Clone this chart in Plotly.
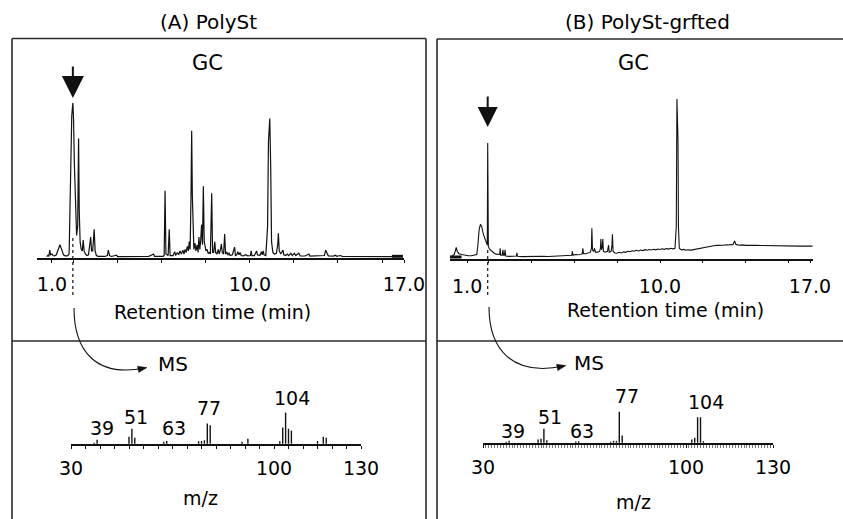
import plotly.graph_objects as go

W, H = 843, 519


def px(x):
    return x / W


def py(y):
    return 1 - y / H


# ---------------- data ----------------
# GC chromatogram (A) PolySt: retention time (min) / detector signal (rel.)
gc_a_time = [0.76, 0.82, 0.86, 0.90, 0.94, 1.00, 1.05, 1.12, 1.20, 1.28, 1.36, 1.44, 1.52, 1.60, 1.70,
             1.78, 1.84, 1.90, 1.95, 1.98, 2.02, 2.07, 2.12, 2.17, 2.21, 2.24, 2.28, 2.33, 2.38, 2.42,
             2.46, 2.52, 2.58, 2.66, 2.72, 2.76, 2.80, 2.85, 2.92, 2.96, 3.02, 3.10, 3.40, 3.52, 3.56,
             3.62, 3.70, 3.94, 3.98, 4.50, 4.90, 5.40, 5.62, 5.66, 6.05, 6.10, 6.14, 6.18, 6.28, 6.33,
             6.37, 6.50, 6.58, 6.62, 6.70, 6.76, 6.82, 6.88, 6.95, 7.00, 7.05, 7.10, 7.15, 7.20, 7.24,
             7.28, 7.32, 7.35, 7.38, 7.41, 7.45, 7.50, 7.54, 7.60, 7.64, 7.68, 7.72, 7.76, 7.80, 7.84,
             7.88, 7.92, 7.96, 8.00, 8.05, 8.10, 8.15, 8.20, 8.26, 8.30, 8.35, 8.40, 8.44, 8.50, 8.56,
             8.60, 8.66, 8.70, 8.74, 8.80, 8.85, 8.89, 8.95, 9.00, 9.05, 9.10, 9.20, 9.30, 9.34, 9.40,
             9.45, 9.50, 9.55, 9.60, 9.70, 9.80, 9.90, 10.02, 10.05, 10.09, 10.20, 10.30, 10.34, 10.45,
             10.52, 10.56, 10.60, 10.64, 10.72, 10.80, 10.84, 10.90, 10.94, 10.98, 11.04, 11.10, 11.20,
             11.26, 11.29, 11.33, 11.40, 11.50, 11.54, 11.62, 11.70, 11.76, 11.86, 11.92, 12.02, 12.08,
             12.22, 12.28, 12.50, 12.68, 12.72, 13.00, 13.38, 13.44, 13.50, 13.56, 13.80, 13.88, 13.95,
             14.10, 14.20, 14.60, 15.20, 16.00, 16.45]
gc_a_signal = [0.3, 1.2, 0.5, 4.5, 1.5, 2.0, 1.0, 0.8, 1.5, 5.0, 8.0, 5.0, 1.5, 0.8, 0.8,
               2.0, 40.0, 92.0, 100.0, 90.0, 60.0, 30.0, 14.0, 20.0, 77.0, 30.0, 10.0, 5.0, 4.0, 11.0,
               4.0, 2.0, 1.0, 1.5, 8.0, 13.0, 4.0, 4.0, 18.0, 4.0, 1.0, 0.5, 0.4, 1.0, 4.5,
               1.0, 0.4, 1.2, 0.3, 0.5, 0.4, 0.5, 2.0, 0.4, 0.5, 1.0, 43.0, 2.0, 1.0, 18.0,
               1.0, 1.0, 3.5, 1.0, 3.0, 1.5, 4.0, 2.0, 4.5, 2.0, 5.0, 3.0, 7.0, 4.0, 10.0,
               5.0, 40.0, 82.0, 40.0, 12.0, 5.0, 9.0, 4.0, 8.0, 3.0, 13.0, 5.0, 11.0, 21.0, 8.0,
               46.0, 10.0, 6.0, 4.0, 5.0, 2.5, 3.0, 2.0, 41.5, 3.0, 3.0, 10.0, 3.0, 2.0, 5.0,
               2.0, 5.0, 8.5, 3.0, 2.0, 15.0, 2.0, 3.0, 1.5, 2.5, 1.0, 1.5, 6.5, 1.0, 1.5,
               3.5, 1.5, 3.0, 1.0, 0.8, 1.5, 0.8, 1.0, 4.0, 1.0, 1.0, 4.0, 1.5, 1.0,
               3.5, 1.5, 4.0, 1.5, 1.0, 20.0, 75.0, 90.0, 60.0, 10.0, 3.0, 2.0, 2.5,
               8.0, 15.5, 4.0, 2.0, 4.5, 1.5, 1.0, 2.0, 1.0, 2.5, 1.0, 2.5, 1.0,
               2.5, 0.7, 0.7, 2.0, 0.6, 0.6, 1.0, 4.5, 2.0, 0.8, 0.6, 1.2, 0.5,
               1.0, 0.5, 0.4, 0.4, 0.3, 0.3]
gc_a_end_time = [16.45, 16.95]
gc_a_end_signal = [0.5, 0.5]

# GC chromatogram (B) PolySt-grfted
gc_b_time = [0.29, 0.40, 0.46, 0.49, 0.54, 0.62, 0.75, 0.90, 1.05, 1.20, 1.35, 1.45, 1.50, 1.56, 1.62,
             1.68, 1.76, 1.84, 1.90, 1.94, 1.96, 1.99, 2.05, 2.15, 2.25, 2.35, 2.45, 2.52, 2.54, 2.57,
             2.64, 2.67, 2.70, 2.74, 2.77, 2.80, 2.95, 3.10, 3.30, 3.32, 3.35, 3.60, 3.90, 4.20, 4.50,
             4.80, 5.10, 5.40, 5.60, 5.80, 5.88, 5.91, 5.94, 6.05, 6.15, 6.30, 6.37, 6.40, 6.43, 6.55,
             6.65, 6.75, 6.80, 6.82, 6.85, 6.90, 6.95, 6.98, 7.10, 7.18, 7.22, 7.24, 7.27, 7.31, 7.33,
             7.36, 7.45, 7.55, 7.60, 7.63, 7.72, 7.76, 7.78, 7.81, 7.90, 7.98, 8.10, 8.20, 8.30, 8.40,
             8.50, 8.60, 8.70, 8.80, 8.90, 9.00, 9.10, 9.20, 9.30, 9.40, 9.50, 9.60, 9.70, 9.80, 9.90,
             10.00, 10.10, 10.20, 10.30, 10.40, 10.50, 10.60, 10.70, 10.76, 10.79, 10.82, 10.84,
             10.86, 10.90, 11.00, 11.10, 11.20, 11.30, 11.45, 11.56, 11.70, 11.80, 11.90, 12.02, 12.15,
             12.25, 12.40, 12.50, 12.65, 12.75, 12.85, 12.96, 13.10, 13.20, 13.30, 13.40, 13.48, 13.54,
             13.70, 13.85, 14.00, 14.20, 14.35, 14.55, 14.70, 14.90, 15.13, 15.30, 15.50, 15.70, 15.90,
             16.20, 16.50, 16.80, 17.12]
gc_b_signal = [1.0, 2.0, 5.0, 6.5, 4.0, 2.5, 2.0, 1.5, 1.2, 1.2, 1.5, 2.0, 8.0, 18.0, 21.5,
               20.0, 15.0, 12.0, 9.0, 8.0, 74.0, 7.0, 5.5, 4.0, 3.0, 2.2, 1.8, 2.0, 6.0, 1.5,
               1.5, 5.0, 1.5, 1.5, 5.0, 1.0, 0.8, 0.8, 1.0, 3.0, 0.8, 0.6, 0.8, 0.6, 0.9,
               0.7, 1.0, 1.0, 1.2, 1.5, 1.5, 4.0, 1.5, 2.0, 1.8, 2.0, 2.5, 6.0, 2.5, 2.5,
               3.0, 3.5, 6.0, 19.0, 5.0, 4.0, 6.0, 3.5, 3.5, 4.0, 6.0, 12.0, 5.0, 7.0, 12.0,
               4.0, 3.5, 4.0, 8.0, 3.5, 4.0, 8.0, 15.0, 4.0, 3.0, 2.8, 3.4, 3.0, 3.7, 3.4,
               4.1, 3.8, 4.4, 4.1, 4.7, 4.3, 4.9, 4.5, 5.1, 4.7, 5.2, 4.9, 5.4, 5.0, 5.5,
               5.2, 5.7, 5.3, 5.8, 5.5, 6.0, 5.6, 6.0, 20.0, 102.5, 90.0, 76.0,
               20.0, 6.0, 5.0, 5.3, 4.7, 5.0, 4.8, 5.1, 5.6, 5.9, 6.4, 6.5, 7.0,
               7.2, 7.5, 7.6, 7.9, 7.8, 8.1, 8.0, 8.3, 8.1, 8.4, 8.3, 10.8, 8.5,
               8.0, 8.2, 7.9, 8.1, 7.8, 8.0, 7.8, 7.7, 7.6, 7.8, 7.5, 7.6, 7.4,
               7.5, 7.4, 7.5, 7.4]
gc_b_start_time = [0.20, 0.74]
gc_b_start_signal = [0.0, 0.0]

# retention time of the peak sent to the MS
sel_rt_a = 1.95
sel_rt_b = 1.96

gc_ticks = [1.0, 10.0, 17.0]
gc_ticktext = ["1.0", "10.0", "17.0"]

# mass spectra: m/z and relative abundance (%)
ms_a_mz = [38, 39, 50, 51, 52, 62, 63, 74, 75, 76, 77, 78, 89, 91, 102, 103, 104, 105, 106, 115, 117, 118]
ms_a_int = [3, 13, 22, 48, 19, 6, 9, 8, 9, 11, 65, 59, 6, 16, 8, 52, 100, 48, 42, 9, 22, 19]

ms_b_mz = [38, 39, 49, 50, 51, 52, 62, 63, 74, 75, 76, 77, 78, 102, 103, 104, 105, 106]
ms_b_int = [3, 6, 10, 13, 45, 8, 4, 5, 3, 6, 6, 100, 23, 10, 16, 82, 82, 5]

ms_ticks = [30, 100, 130]
ms_ticktext = ["30", "100", "130"]
ms_labels = ["39", "51", "63", "77", "104"]
ms_a_label_mz = [40.7, 52.4, 65.5, 77.6, 106.2]
ms_a_label_y = [428, 417, 428, 408, 398]
ms_b_label_mz = [40.3, 53.1, 64.1, 79.7, 106.9]
ms_b_label_y = [431, 417, 431, 396, 402]

FONT = "DejaVu Sans, Liberation Sans, Arial, sans-serif"
INK = "#111111"


def sticks(mz, inten):
    xs, ys = [], []
    for m, v in zip(mz, inten):
        xs += [m, m, None]
        ys += [0, v, None]
    return xs, ys


fig = go.Figure()

# chromatograms
fig.add_trace(go.Scatter(x=gc_a_time, y=gc_a_signal, mode="lines",
                         line=dict(color=INK, width=1.2), xaxis="x", yaxis="y"))
fig.add_trace(go.Scatter(x=gc_a_end_time, y=gc_a_end_signal, mode="lines",
                         line=dict(color=INK, width=3), xaxis="x", yaxis="y"))
fig.add_trace(go.Scatter(x=gc_b_time, y=gc_b_signal, mode="lines",
                         line=dict(color=INK, width=1.1), xaxis="x2", yaxis="y2"))
fig.add_trace(go.Scatter(x=gc_b_start_time, y=gc_b_start_signal, mode="lines",
                         line=dict(color=INK, width=4), xaxis="x2", yaxis="y2"))

# mass spectra
sx, sy = sticks(ms_a_mz, ms_a_int)
fig.add_trace(go.Scatter(x=sx, y=sy, mode="lines", line=dict(color=INK, width=1.4),
                         xaxis="x3", yaxis="y3"))
sx, sy = sticks(ms_b_mz, ms_b_int)
fig.add_trace(go.Scatter(x=sx, y=sy, mode="lines", line=dict(color=INK, width=1.4),
                         xaxis="x4", yaxis="y4"))

TICKFONT = dict(family=FONT, size=19, color="black")


def gc_xaxis(dom, rng, anchor, standoff):
    return dict(domain=dom, range=rng, anchor=anchor, showline=True, linecolor=INK, linewidth=1.5,
                ticks="outside", ticklen=3, tickwidth=1, tickcolor=INK,
                tickvals=gc_ticks, ticktext=gc_ticktext, ticklabelstandoff=standoff,
                tickfont=TICKFONT,
                minor=dict(ticks="outside", ticklen=3, dtick=2, tickcolor=INK),
                showgrid=False, zeroline=False, fixedrange=True, automargin=False)


def ms_xaxis(dom, anchor, minor_dtick, tick_color):
    return dict(domain=dom, range=[30, 130], anchor=anchor, showline=True, linecolor=INK, linewidth=1.5,
                ticks="outside", ticklen=3, tickwidth=1, tickcolor=INK,
                tickvals=ms_ticks, ticktext=ms_ticktext, ticklabelstandoff=3,
                tickfont=TICKFONT,
                minor=dict(ticks="outside", ticklen=3, dtick=minor_dtick, tickcolor=tick_color),
                showgrid=False, zeroline=False, fixedrange=True, automargin=False)


hidden = dict(visible=False, showgrid=False, zeroline=False, fixedrange=True, automargin=False)

fig.update_layout(
    template="none",
    width=W, height=H, autosize=False,
    margin=dict(l=0, r=0, t=0, b=0, pad=0),
    paper_bgcolor="white", plot_bgcolor="white",
    showlegend=False,
    font=dict(family=FONT, size=19, color="black"),
    xaxis=gc_xaxis([px(37), px(404)], [0.32, 17.0], "y", 5),
    yaxis=dict(domain=[py(258), py(80)], range=[-0.6, 115], **hidden),
    xaxis2=gc_xaxis([px(450), px(813)], [0.2, 17.14], "y2", 7),
    yaxis2=dict(domain=[py(258.5), py(80)], range=[-0.6, 114.7], **hidden),
    xaxis3=ms_xaxis([px(71), px(361)], "y3", 5, INK),
    yaxis3=dict(domain=[py(444), py(380)], range=[-1, 205], **hidden),
    xaxis4=ms_xaxis([px(483), px(773)], "y4", 1, "#777777"),
    yaxis4=dict(domain=[py(443), py(380)], range=[-1, 202], **hidden),
)

shapes = []
BOX = dict(color="#2a2a2a", width=1.6)


def hline(x0, x1, y):
    shapes.append(dict(type="line", xref="paper", yref="paper", x0=px(x0), x1=px(x1),
                       y0=py(y), y1=py(y), line=BOX))


def vline(x, y0, y1):
    shapes.append(dict(type="line", xref="paper", yref="paper", x0=px(x), x1=px(x),
                       y0=py(y0), y1=py(y1), line=BOX))


# panel frames (open at the bottom)
hline(12, 426, 38.5)
vline(12, 38.5, 519)
vline(426, 38.5, 519)
hline(12, 426, 341)
hline(437, 843, 39)
vline(437, 39, 519)
hline(437, 843, 341)

# dotted drop lines from the selected GC peak
shapes.append(dict(type="line", xref="x", yref="paper", x0=sel_rt_a, x1=sel_rt_a,
                   y0=py(238), y1=py(296), line=dict(color=INK, width=1.2, dash="dot")))
shapes.append(dict(type="line", xref="x2", yref="paper", x0=sel_rt_b, x1=sel_rt_b,
                   y0=py(250), y1=py(297), line=dict(color=INK, width=1.2, dash="dot")))


def curved_arrow(p0, c1, c2, p3):
    path = (f"M {px(p0[0])},{py(p0[1])} C {px(c1[0])},{py(c1[1])} "
            f"{px(c2[0])},{py(c2[1])} {px(p3[0])},{py(p3[1])}")
    shapes.append(dict(type="path", xref="paper", yref="paper", path=path,
                       line=dict(color=INK, width=1.1)))
    # arrow head along the end tangent
    dx, dy = p3[0] - c2[0], p3[1] - c2[1]
    n = (dx * dx + dy * dy) ** 0.5
    ux, uy = dx / n, dy / n
    L, Wd = 9, 3.2
    tip = (p3[0] + ux * 2, p3[1] + uy * 2)
    bx, by = tip[0] - ux * L, tip[1] - uy * L
    a = (bx - uy * Wd, by + ux * Wd)
    b = (bx + uy * Wd, by - ux * Wd)
    head = (f"M {px(tip[0])},{py(tip[1])} L {px(a[0])},{py(a[1])} "
            f"L {px(b[0])},{py(b[1])} Z")
    shapes.append(dict(type="path", xref="paper", yref="paper", path=head,
                       fillcolor=INK, line=dict(color=INK, width=0.5)))


curved_arrow((74, 308), (74, 350), (95, 378), (145, 368))
curved_arrow((489, 307), (489, 349), (512, 377), (564, 366))

fig.update_layout(shapes=shapes)

ann = []


def label(text, x, y, size=19):
    ann.append(dict(text=text, x=px(x), y=py(y), xref="paper", yref="paper",
                    xanchor="center", yanchor="middle", showarrow=False,
                    font=dict(family=FONT, size=size, color="black")))


label("(A) PolySt", 208, 22, 20)
label("(B) PolySt-grfted", 647, 22, 20)
label("GC", 207, 63, 21)
label("GC", 633, 63, 21)
label("Retention time (min)", 212, 312, 19)
label("Retention time (min)", 665, 310, 19)
label("MS", 173, 364, 20)
label("MS", 589, 363, 20)
label("m/z", 200, 498, 19)
label("m/z", 633, 502, 19)

for t, m, y in zip(ms_labels, ms_a_label_mz, ms_a_label_y):
    ann.append(dict(text=t, x=m, y=py(y), xref="x3", yref="paper", xanchor="center",
                    yanchor="middle", showarrow=False, font=dict(family=FONT, size=19, color="black")))
for t, m, y in zip(ms_labels, ms_b_label_mz, ms_b_label_y):
    ann.append(dict(text=t, x=m, y=py(y), xref="x4", yref="paper", xanchor="center",
                    yanchor="middle", showarrow=False, font=dict(family=FONT, size=19, color="black")))

# arrows pointing at the selected GC peak
ann.append(dict(text="", x=sel_rt_a, y=py(98), xref="x", yref="paper", ax=0, ay=-33,
                showarrow=True, arrowhead=2, arrowsize=2.2, arrowwidth=2, arrowcolor=INK))
ann.append(dict(text="", x=sel_rt_b, y=py(127), xref="x2", yref="paper", ax=0, ay=-32,
                showarrow=True, arrowhead=2, arrowsize=2.0, arrowwidth=2, arrowcolor=INK))

fig.update_layout(annotations=ann)

fig.write_html("out.html")
